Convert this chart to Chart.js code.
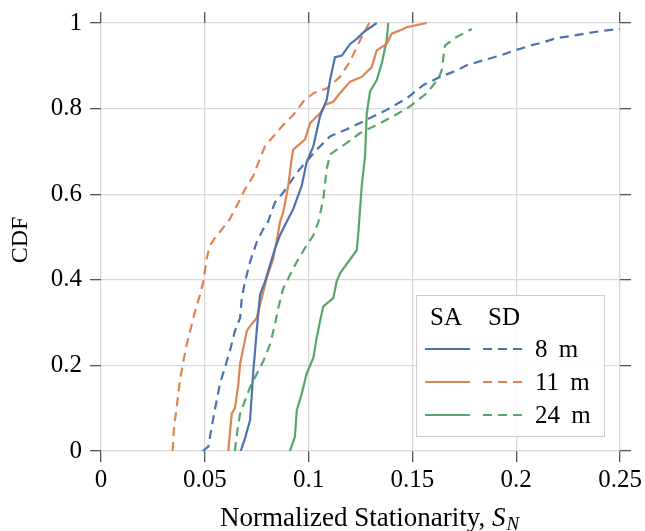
<!DOCTYPE html>
<html>
<head>
<meta charset="utf-8">
<script src="https://cdn.jsdelivr.net/npm/chart.js@4.4.0/dist/chart.umd.min.js"></script>
<style>
    html, body { margin: 0; padding: 0; background: #fff; }
    #wrap { width: 645px; height: 531px; }
</style>
</head>
<body>
<div id="wrap"><canvas id="cdf-chart" width="645" height="531"></canvas></div>
<script>
// CDF of normalized stationarity, SA (solid) and SD (dashed)
const heights = ['8 m', '11 m', '24 m'];
const colors = ['#4c72b0', '#dd8452', '#55a868'];

const xTicks = [0, 0.05, 0.1, 0.15, 0.2, 0.25];
const yTicks = [0, 0.2, 0.4, 0.6, 0.8, 1];

const sa8X = [0.0673, 0.0694, 0.0718, 0.0734, 0.075, 0.0766, 0.079, 0.0838, 0.0862, 0.0894, 0.0926, 0.0967, 0.099, 0.1023, 0.1055, 0.1087, 0.1103, 0.1127, 0.116, 0.12, 0.1232, 0.1264, 0.1328];
const sa8Y = [0, 0.03, 0.072, 0.188, 0.28, 0.365, 0.396, 0.473, 0.504, 0.535, 0.565, 0.62, 0.674, 0.712, 0.782, 0.82, 0.866, 0.92, 0.924, 0.951, 0.963, 0.978, 1.0];

const sa11X = [0.0613, 0.063, 0.0645, 0.066, 0.067, 0.0702, 0.0718, 0.075, 0.0766, 0.0798, 0.083, 0.0854, 0.0862, 0.0878, 0.0902, 0.0918, 0.0926, 0.0983, 0.1007, 0.1055, 0.108, 0.1119, 0.1151, 0.12, 0.1256, 0.1304, 0.1328, 0.1376, 0.14, 0.1456, 0.1472, 0.1569];
const sa11Y = [0, 0.088, 0.1, 0.149, 0.203, 0.28, 0.292, 0.311, 0.342, 0.403, 0.45, 0.512, 0.535, 0.558, 0.62, 0.681, 0.704, 0.728, 0.766, 0.789, 0.809, 0.816, 0.836, 0.863, 0.874, 0.897, 0.936, 0.951, 0.975, 0.986, 0.99, 1.0];

const sa24X = [0.091, 0.0934, 0.0943, 0.0967, 0.099, 0.1023, 0.1039, 0.1055, 0.1071, 0.1119, 0.1135, 0.1151, 0.1232, 0.124, 0.1256, 0.1272, 0.128, 0.1296, 0.1328, 0.1352, 0.1376, 0.1384];
const sa24Y = [0, 0.033, 0.095, 0.134, 0.18, 0.218, 0.265, 0.303, 0.338, 0.357, 0.396, 0.415, 0.469, 0.512, 0.62, 0.689, 0.789, 0.84, 0.866, 0.905, 0.959, 1.0];

const sd8X = [0.049, 0.0517, 0.0533, 0.055, 0.0573, 0.0597, 0.0621, 0.0645, 0.067, 0.0678, 0.0694, 0.0718, 0.075, 0.0782, 0.0798, 0.0838, 0.0878, 0.0943, 0.099, 0.1039, 0.1103, 0.1184, 0.128, 0.1376, 0.1472, 0.1553, 0.1633, 0.1713, 0.1761, 0.1842, 0.1922, 0.1994, 0.2066, 0.2131, 0.2195, 0.2259, 0.234, 0.242, 0.25];
const sd8Y = [0, 0.01, 0.056, 0.1, 0.157, 0.195, 0.234, 0.28, 0.311, 0.357, 0.396, 0.442, 0.488, 0.519, 0.527, 0.581, 0.604, 0.65, 0.677, 0.704, 0.735, 0.752, 0.774, 0.797, 0.824, 0.855, 0.874, 0.889, 0.901, 0.913, 0.924, 0.936, 0.947, 0.955, 0.965, 0.969, 0.976, 0.982, 0.986];

const sd11X = [0.0345, 0.0352, 0.0364, 0.038, 0.0397, 0.0413, 0.0429, 0.0453, 0.0477, 0.0493, 0.0509, 0.0525, 0.0557, 0.0573, 0.0621, 0.0654, 0.0694, 0.0734, 0.0758, 0.079, 0.083, 0.0878, 0.0926, 0.0974, 0.1023, 0.1087, 0.1151, 0.1167, 0.12, 0.1232, 0.1264, 0.1292];
const sd11Y = [0, 0.056, 0.1, 0.164, 0.21, 0.249, 0.28, 0.326, 0.365, 0.396, 0.45, 0.48, 0.504, 0.512, 0.542, 0.573, 0.612, 0.643, 0.674, 0.712, 0.735, 0.762, 0.785, 0.816, 0.836, 0.847, 0.874, 0.886, 0.91, 0.944, 0.975, 1.0];

const sd24X = [0.0645, 0.0657, 0.067, 0.0694, 0.0718, 0.075, 0.0782, 0.0814, 0.0838, 0.0854, 0.0878, 0.091, 0.0943, 0.099, 0.1023, 0.1047, 0.1071, 0.1087, 0.1103, 0.1184, 0.1248, 0.1328, 0.1408, 0.1488, 0.1569, 0.1625, 0.1641, 0.1649, 0.1657, 0.1697, 0.1786];
const sd24Y = [0, 0.049, 0.087, 0.118, 0.149, 0.18, 0.21, 0.249, 0.296, 0.334, 0.38, 0.411, 0.442, 0.48, 0.504, 0.535, 0.589, 0.658, 0.693, 0.72, 0.743, 0.762, 0.782, 0.805, 0.836, 0.87, 0.889, 0.92, 0.947, 0.963, 0.986];

const FONT = '"Liberation Serif", "DejaVu Serif", serif';
const FONT_SIZE = 25;
const TITLE_SIZE = 27;
const DASH = [9, 6];

function toPoints(xs, ys) {
    return xs.map((x, i) => ({ x: x, y: ys[i] }));
}

function makeSet(label, xs, ys, color, dashed) {
    return {
        label: label,
        data: toPoints(xs, ys),
        showLine: true,
        borderColor: color,
        backgroundColor: color,
        borderWidth: 2.2,
        borderDash: dashed ? DASH : [],
        pointRadius: 0,
        pointHoverRadius: 0,
        tension: 0,
        clip: 2
    };
}

const datasets = [
    makeSet('SA 8 m', sa8X, sa8Y, colors[0], false),
    makeSet('SA 11 m', sa11X, sa11Y, colors[1], false),
    makeSet('SA 24 m', sa24X, sa24Y, colors[2], false),
    makeSet('SD 8 m', sd8X, sd8Y, colors[0], true),
    makeSet('SD 11 m', sd11X, sd11Y, colors[1], true),
    makeSet('SD 24 m', sd24X, sd24Y, colors[2], true)
];

const gridOpts = {
    color: '#d9d9d9',
    lineWidth: 1.3,
    tickColor: '#555',
    tickWidth: 1.3,
    tickLength: 11
};

// ticks only (top and right frame)
const markOnly = {
    color: '#d9d9d9',
    lineWidth: 1.3,
    tickColor: '#555',
    tickWidth: 1.3,
    tickLength: 11,
    drawOnChartArea: false
};

function fixSize(size) {
    return function (scale) {
        if (scale.isHorizontal()) scale.height = size;
        else scale.width = size;
    };
}

// legend: SA / SD columns, one row per height
const cornerLegend = {
    id: 'cornerLegend',
    afterDatasetsDraw(chart) {
        const ctx = chart.ctx;
        const box = { left: 416, top: 295, width: 188, height: 141 };
        ctx.save();
        ctx.fillStyle = 'rgba(255,255,255,0.85)';
        ctx.fillRect(box.left, box.top, box.width, box.height);
        ctx.strokeStyle = '#cccccc';
        ctx.lineWidth = 1;
        ctx.strokeRect(box.left + 0.5, box.top + 0.5, box.width, box.height);

        ctx.fillStyle = '#000';
        ctx.font = FONT_SIZE + 'px ' + FONT;
        ctx.textBaseline = 'alphabetic';
        ctx.textAlign = 'left';
        ctx.fillText('SA', 430, 325);
        ctx.fillText('SD', 488, 325);

        heights.forEach((h, i) => {
            const y = 349 + i * 33;
            ctx.lineWidth = 2;
            ctx.strokeStyle = colors[i];
            ctx.setLineDash([]);
            ctx.beginPath();
            ctx.moveTo(425, y);
            ctx.lineTo(470, y);
            ctx.stroke();
            ctx.setLineDash(DASH);
            ctx.beginPath();
            ctx.moveTo(483, y);
            ctx.lineTo(523, y);
            ctx.stroke();
            ctx.setLineDash([]);
            ctx.textBaseline = 'middle';
            ctx.fillStyle = '#000';
            ctx.fillText(h.replace(' ', '\u2009 '), 535, y + 1);
        });
        ctx.restore();
    }
};

// axis titles, x title has an italic S with subscript N
const axisTitles = {
    id: 'axisTitles',
    afterDraw(chart) {
        const ctx = chart.ctx;
        const area = chart.chartArea;
        ctx.save();
        ctx.fillStyle = '#000';
        ctx.textBaseline = 'alphabetic';
        ctx.textAlign = 'left';

        const plain = 'Normalized Stationarity, ';
        const subSize = Math.round(TITLE_SIZE * 0.7);
        ctx.font = TITLE_SIZE + 'px ' + FONT;
        const w1 = ctx.measureText(plain).width;
        ctx.font = 'italic ' + TITLE_SIZE + 'px ' + FONT;
        const w2 = ctx.measureText('S').width;
        ctx.font = 'italic ' + subSize + 'px ' + FONT;
        const w3 = ctx.measureText('N').width;
        const total = w1 + w2 + w3 + 1;
        const x0 = (area.left + area.right) / 2 + 9 - total / 2;
        const base = 526;
        ctx.font = TITLE_SIZE + 'px ' + FONT;
        ctx.fillText(plain, x0, base);
        ctx.font = 'italic ' + TITLE_SIZE + 'px ' + FONT;
        ctx.fillText('S', x0 + w1, base);
        ctx.font = 'italic ' + subSize + 'px ' + FONT;
        ctx.fillText('N', x0 + w1 + w2 + 1, base + 4);

        ctx.translate(21, 240);
        ctx.rotate(-Math.PI / 2);
        ctx.font = '24px ' + FONT;
        ctx.textAlign = 'center';
        ctx.textBaseline = 'middle';
        ctx.fillText('CDF', 0, 0);
        ctx.restore();
    }
};

const ctx = document.getElementById('cdf-chart').getContext('2d');
const cdfChart = new Chart(ctx, {
    type: 'scatter',
    data: { datasets: datasets },
    plugins: [cornerLegend, axisTitles],
    options: {
        responsive: false,
        animation: false,
        events: [],
        layout: { padding: { left: 0, right: 14, top: 8, bottom: 0 } },
        plugins: {
            legend: { display: false },
            tooltip: { enabled: false }
        },
        scales: {
            x: {
                type: 'linear',
                position: 'bottom',
                min: xTicks[0],
                max: xTicks[xTicks.length - 1],
                afterBuildTicks: s => { s.ticks = xTicks.map(v => ({ value: v })); },
                ticks: {
                    color: '#000',
                    font: { family: FONT, size: FONT_SIZE },
                    padding: 3,
                    maxRotation: 0,
                    callback: v => String(+v.toFixed(2))
                },
                grid: gridOpts,
                border: { display: false },
                afterFit: fixSize(80)
            },
            y: {
                type: 'linear',
                position: 'left',
                min: yTicks[0],
                max: yTicks[yTicks.length - 1],
                afterBuildTicks: s => { s.ticks = yTicks.map(v => ({ value: v })); },
                ticks: {
                    color: '#000',
                    font: { family: FONT, size: FONT_SIZE },
                    padding: 8,
                    callback: v => String(+v.toFixed(1))
                },
                grid: gridOpts,
                border: { display: false },
                afterFit: fixSize(101)
            },
            x2: {
                type: 'linear',
                position: 'top',
                min: xTicks[0],
                max: xTicks[xTicks.length - 1],
                afterBuildTicks: s => { s.ticks = xTicks.map(v => ({ value: v })); },
                ticks: { display: false },
                grid: markOnly,
                border: { display: false },
                afterFit: fixSize(11)
            },
            y2: {
                type: 'linear',
                position: 'right',
                min: yTicks[0],
                max: yTicks[yTicks.length - 1],
                afterBuildTicks: s => { s.ticks = yTicks.map(v => ({ value: v })); },
                ticks: { display: false },
                grid: markOnly,
                border: { display: false },
                afterFit: fixSize(11)
            }
        }
    }
});
</script>
</body>
</html>
